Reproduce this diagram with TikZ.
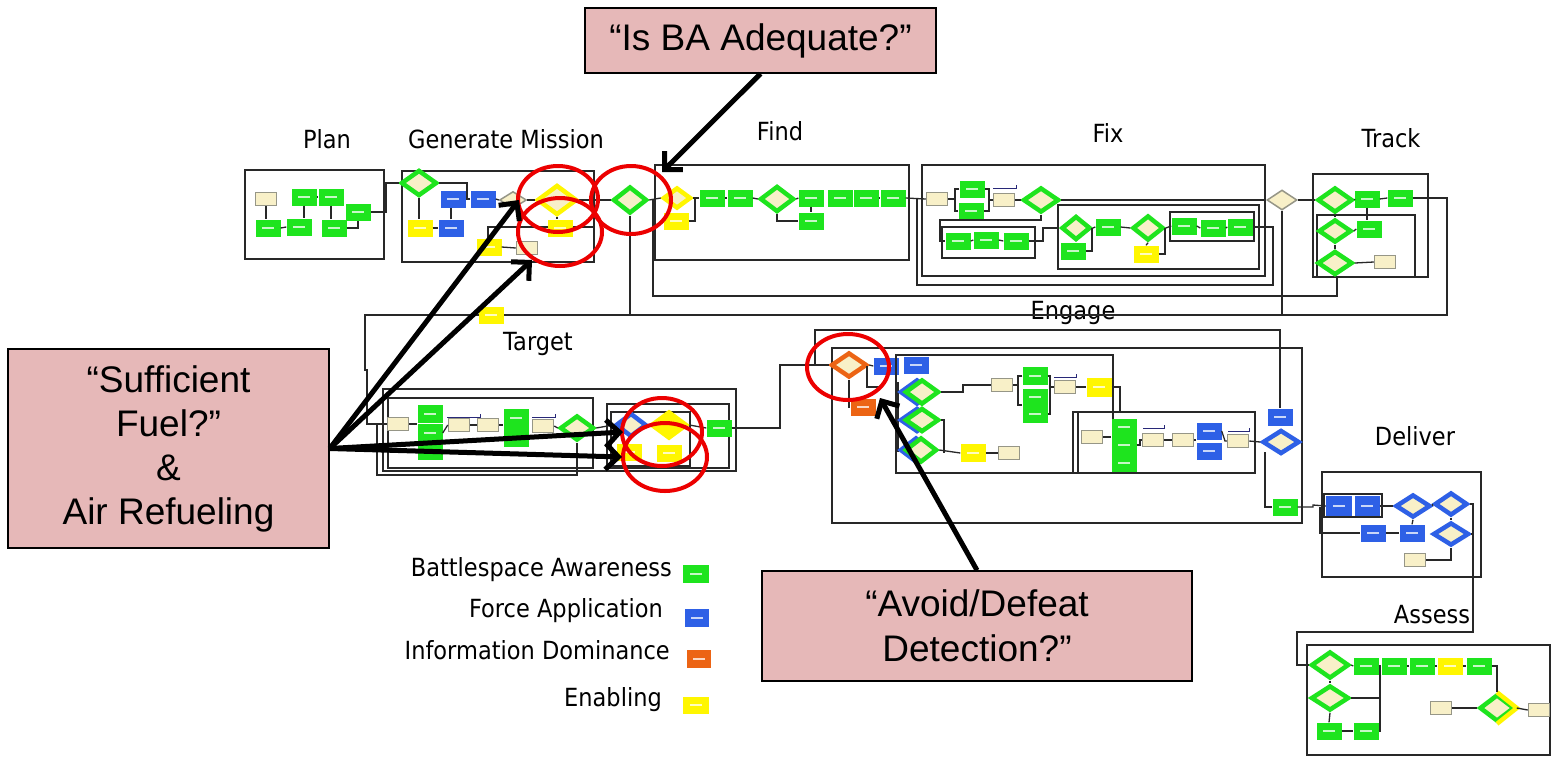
\documentclass[tikz,border=0pt]{standalone}
\usepackage{fontspec}
\usetikzlibrary{shapes.geometric,arrows.meta}
\newfontfamily\lblfont[FakeStretch=0.9]{DejaVu Sans}
\newfontfamily\callfont{Liberation Sans}
\definecolor{cgreen}{RGB}{30,228,30}
\definecolor{cblue}{RGB}{46,96,230}
\definecolor{corange}{RGB}{236,100,20}
\definecolor{cyellow}{RGB}{255,246,0}
\definecolor{cbeige}{RGB}{248,240,200}
\definecolor{cgray}{RGB}{150,150,135}
\definecolor{cpink}{RGB}{230,184,184}
\definecolor{cred}{RGB}{236,0,0}
\definecolor{cnavy}{RGB}{40,40,120}
\definecolor{cline}{RGB}{40,40,40}
\tikzset{
  tbox/.style={draw=none, minimum width=25pt, minimum height=17pt, inner sep=0pt,
    path picture={\fill[white, opacity=0.75] ([shift={(-6pt,-1pt)}]path picture bounding box.center) rectangle ([shift={(6pt,1pt)}]path picture bounding box.center);}},
  gb/.style={tbox, fill=cgreen},
  bb/.style={tbox, fill=cblue},
  ob/.style={tbox, fill=corange},
  yb/.style={tbox, fill=cyellow},
  doc/.style={draw=cgray, line width=1.5pt, fill=cbeige, minimum width=21pt, minimum height=13pt, inner sep=0pt},
  dia/.style={diamond, draw=#1, line width=4.5pt, fill=cbeige, inner sep=0pt, minimum width=36pt, minimum height=27pt},
  dia/.default=cgreen,
  frm/.style={draw=cline, line width=1.3pt},
  wire/.style={draw=cline, line width=1.3pt},
  navy/.style={draw=cnavy, line width=1pt},
  callout/.style={draw=black, line width=1.5pt, fill=cpink, align=center, inner sep=0pt},
  ring/.style={ellipse, draw=cred, line width=4pt, inner sep=0pt},
  bigarrow/.style={draw=black, line width=5pt, -{Straight Barb[length=13pt,width=26pt]}},
  lbl/.style={font=\lblfont\fontsize{25}{30}\selectfont, inner sep=0pt},
}
\begin{document}
\begin{tikzpicture}[x=1pt,y=-1pt]
\fill[white] (0,0) rectangle (1552,761);
\useasboundingbox (0,0) rectangle (1552,761);
\coordinate (yl) at (0,315);

% ---------- section labels ----------
\node[lbl, anchor=base] (lplan) at (327,148) {Plan};
\node[lbl, anchor=base] (lgm) at (506,148) {Generate Mission};
\node[lbl, anchor=base] (lfind) at (780,140) {Find};
\node[lbl, anchor=base] (lfix) at (1108,142) {Fix};
\node[lbl, anchor=base] (ltrack) at (1391,147) {Track};
\node[lbl, anchor=base] (lengage) at (1073,319) {Engage};
\node[lbl, anchor=base] (ltarget) at (538,350) {Target};
\node[lbl, anchor=base] (ldeliver) at (1415,445) {Deliver};
\node[lbl, anchor=base] (lassess) at (1432,623) {Assess};

% ---------- long routing lines ----------
\draw[wire] (653,200) -- (653,296) -- (1337,296) -- (1337,277);
\draw[wire] (917,199) -- (917,285) -- (1273,285) -- (1273,227) -- (1253,227);

% ---------- Plan ----------
\draw[frm] (245,170) rectangle (384,259);
\node[doc] (p0) at (266,199) {};
\node[gb] (p1) at (304,197) {};
\node[gb] (p2) at (331,197) {};
\node[gb] (p3) at (358,212) {};
\node[gb] (p4) at (268,228) {};
\node[gb] (p5) at (299,227) {};
\node[gb] (p6) at (334,228) {};
\draw[wire] (p0.south) -- (p0.south |- p4.north);
\draw[wire] (p1.south) -- (p1.south |- p5.north);
\draw[wire] (p2.south) -- (p2.south |- p6.north);
\draw[wire] (p4.east) -- (p5.west);
\draw[wire] (p1.east) -- (p2.west);
\draw[wire] (p6.east) -| (p3.south);

% ---------- Generate Mission ----------
\draw[frm] (402,171) rectangle (594,262);
\draw[wire] (488,240) -- (488,227) -- (594,227);
\node[dia=cgreen, minimum width=36, minimum height=26] (g0) at (419,183) {};
\node[bb] (g1) at (453,199) {};
\node[bb] (g2) at (483,199) {};
\node[yb] (g3) at (420,228) {};
\node[bb] (g4) at (451,228) {};
\node[dia=cgray, line width=1.5pt, minimum width=27, minimum height=17] (g5) at (513,200) {};
\node[dia=cyellow, minimum width=40, minimum height=30] (g6) at (557,200) {};
\node[yb] (g7) at (560,228) {};
\node[yb] (g8) at (489,247) {};
\node[doc] (g9) at (527,248) {};
\draw[wire] (p3.east) -- (386,212) |- (g0.west);
\draw[wire] (g0.east) -- (467,183) |- (g2.west);
\draw[wire] (g0.south) -- (g0.south |- g3.north);
\draw[wire] (g3.east) -- (g4.west);
\draw[wire] (g4.north) -- (g4.north |- g1.south);
\draw[wire] (g2.east) -- (g5.west);
\draw[wire] (g5.east) -- (g6.west);
\draw[wire] (g6.south) -- (g6.south |- g7.north);
\draw[wire] (g8.east) -- (g9.west);

% ---------- Find ----------
\node[dia=cgreen, minimum width=34, minimum height=27] (f0) at (630,200) {};
\draw[wire] (g6.east) -- (f0.west);
\draw[wire] (f0.south) -- (f0.south |- yl);
\draw[frm] (655,165) rectangle (909,260);
\node[yb] (f2) at (676,221) {};
\node[dia=cyellow, minimum width=28, minimum height=21] (f1) at (677,198) {};
\node[gb] (f3) at (712,198) {};
\node[gb] (f4) at (740,198) {};
\node[dia=cgreen, minimum width=34, minimum height=26] (f5) at (777,199) {};
\node[gb] (f6) at (811,198) {};
\node[gb] (f7) at (811,221) {};
\node[gb] (f8) at (840,198) {};
\node[gb] (f9) at (866,198) {};
\node[gb] (f10) at (893,198) {};
\draw[wire] (f0.east) -- (f1.west);
\draw[wire] (f1.east) -- (f3.west);
\draw[wire] (f2.east) -- (695,221) -- (695,198);
\draw[wire] (f3.east) -- (f4.west);
\draw[wire] (f4.east) -- (f5.west);
\draw[wire] (f5.east) -- (f6.west);
\draw[wire] (f5.south) |- (f7.west);
\draw[wire] (f6.south) -- (f7.north);
\draw[wire] (f9.east) -- (f10.west);

% ---------- Fix ----------
\draw[frm] (922,165) rectangle (1265,276);
\node[doc] (x1) at (937,199) {};
\node[gb] (x2) at (972,189) {};
\node[gb] (x3) at (971,211) {};
\node[doc] (x4) at (1004,200) {};
\node[dia=cgreen, minimum width=36, minimum height=25] (x5) at (1041,200) {};
\draw[frm] (942,227) rectangle (1035,258);
\node[gb] (x6) at (958,241) {};
\node[gb] (x7) at (986,240) {};
\node[gb] (x8) at (1016,241) {};
\draw[frm] (1058,205) rectangle (1259,269);
\node[dia=cgreen, minimum width=29, minimum height=24] (x9) at (1076,228) {};
\node[gb] (x10) at (1073,251) {};
\node[gb] (x11) at (1108,227) {};
\node[dia=cgreen, minimum width=31, minimum height=25] (x12) at (1148,228) {};
\node[yb] (x13) at (1146,254) {};
\draw[frm] (1170,212) rectangle (1254,241);
\node[gb] (x14) at (1184,226) {};
\node[gb] (x15) at (1213,228) {};
\node[gb] (x16) at (1240,227) {};
\node[dia=cgray, line width=1.5pt, minimum width=30, minimum height=20] (x17) at (1282,200) {};
\draw[wire] (f10.east) -- (x1.west);
\draw[wire] (x1.east) -- (955,199);
\draw[wire] (x2.west) -- (955,189) -- (955,211) -- (x3.west);
\draw[wire] (x2.east) -- (989,189) -- (989,211) -- (x3.east);
\draw[wire] (989,200) -- (x4.west);
\draw[navy] (993,188) -- (1016,188) -- (1016,185);
\draw[wire] (x4.east) -- (x5.west);
\draw[wire] (x5.east) -- (x17.west);
\draw[wire] (x5.south) -- (1041,220) -- (940,220) -- (940,241) -- (x6.west);
\draw[wire] (x6.east) -- (x7.west);
\draw[wire] (x7.east) -- (x8.west);
\draw[wire] (x8.east) -- (1043,241) |- (x9.west);
\draw[wire] (x9.east) -- (x11.west);
\draw[wire] (x10.east) -- (1092,251) -- (1092,228);
\draw[wire] (x11.east) -- (x12.west);
\draw[wire] (x12.south) -- (x13.north);
\draw[wire] (x13.east) -- (1165,254) -- (1165,228);
\draw[wire] (x12.east) -- (x14.west);
\draw[wire] (x14.east) -- (x15.west);
\draw[wire] (x15.east) -- (x16.west);
\draw[wire] (x17.south) -- (x17.south |- yl);

% ---------- Track ----------
\draw[frm] (1313,174) rectangle (1428,277);
\draw[frm] (1317,215) rectangle (1415,277);
\node[dia=cgreen, minimum width=35, minimum height=25] (t1) at (1335,200) {};
\node[gb] (t2) at (1367,199) {};
\node[gb] (t3) at (1400,198) {};
\node[dia=cgreen, minimum width=33, minimum height=23] (t4) at (1335,231) {};
\node[gb] (t6) at (1369,229) {};
\node[dia=cgreen, minimum width=35, minimum height=24] (t5) at (1335,263) {};
\node[doc] (t7) at (1385,262) {};
\draw[wire] (x17.east) -- (t1.west);
\draw[wire] (t1.east) -- (t2.west);
\draw[wire] (t2.east) -- (t3.west);
\draw[wire] (t1.south) -- (t4.north);
\draw[wire] (t4.south) -- (t5.north);
\draw[wire] (t4.east) -- (t6.west);
\draw[wire] (t2.south) -- (t2.south |- t6.north);
\draw[wire] (t5.east) -- (t7.west);

% ---------- Target ----------
\draw[frm] (383,389) rectangle (736,471);
\draw[frm] (388,398) rectangle (593,468);
\draw[frm] (607,404) rectangle (729,468);
\draw[frm] (611,412) rectangle (690,466);
\node[doc] (a1) at (398,424) {};
\node[gb, minimum height=18] (a2) at (430,414) {};
\node[gb, minimum height=19] (a3) at (430,433) {};
\node[gb, minimum height=16] (a4) at (430,452) {};
\node[doc] (a5) at (459,425) {};
\node[doc] (a6) at (488,425) {};
\node[gb, minimum height=19] (a7) at (516,418) {};
\node[gb, minimum height=19] (a8) at (516,437) {};
\node[doc] (a9) at (543,426) {};
\node[dia=cgreen, minimum width=34, minimum height=25] (a10) at (577,428) {};
\node[yb] (a13) at (629,452) {};
\node[yb] (a14) at (669,453) {};
\node[dia=cblue, minimum width=31, minimum height=24] (a11) at (631,425) {};
\node[dia=cyellow, fill=cyellow, minimum width=36, minimum height=27] (a12) at (669,425) {};
\node[gb] (a15) at (719,428) {};
\draw[wire] (t3.east) -- (1447,198) -- (1447,315) -- (365,315) -- (365,370) -- (367,370) -- (367,424) -- (a1.west);
\node[yb] (ybar) at (491,315) {};
\draw[wire] (a1.east) -- (a1.east -| a3.west);
\draw[wire] (a3.east) -- (a5.west);
\draw[wire] (a5.east) -- (a6.west);
\draw[navy] (447,417) -- (480,417) -- (480,414);
\draw[wire] (a6.east) -- (a6.east -| a7.west);
\draw[wire] (a8.east) -- (a9.west |- a8.east);
\draw[wire] (a9.east) -- (a10.west);
\draw[navy] (532,417) -- (555,417) -- (555,414);
\draw[wire] (a10.east) -- (a11.west);
\draw[wire] (a12.east) -- (a15.west);
\draw[wire] (a10.south) |- (377,475) -- (377,424);

% ---------- Engage ----------
\draw[frm] (832,348) rectangle (1302,523);
\node[dia=corange, minimum width=36, minimum height=25] (e1) at (849,365) {};
\node[bb] (e2) at (886,366) {};
\node[bb] (e3) at (916,365) {};
\node[ob] (e4) at (863,407) {};
\draw[wire] (a15.east) -- (780,428) |- (e1.west);
\draw[wire] (815,365) -- (815,330) -- (1280,330) -- (1280,408);
\draw[wire] (e1.east) -- (e2.west);
\draw[wire] (e1.south) |- (e4.west);
\draw[wire] (867,366) -- (867,387) -- (880,387);
\draw[frm] (896,355) rectangle (1113,473);
\draw[wire] (898,382) -- (898,452);
\node[dia=cblue, minimum width=34, minimum height=25] (e5b) at (917,392) {};
\node[dia=cgreen, minimum width=34, minimum height=25] (e5) at (922,392) {};
\node[dia=cblue, minimum width=34, minimum height=24] (e6b) at (917,420) {};
\node[dia=cgreen, minimum width=34, minimum height=24] (e6) at (922,420) {};
\node[dia=cblue, minimum width=32, minimum height=25] (e7b) at (916,450) {};
\node[dia=cgreen, minimum width=32, minimum height=25] (e7) at (921,450) {};
\node[doc] (e8) at (1002,385) {};
\node[gb, minimum height=18] (e9) at (1035,376) {};
\node[gb, minimum height=17] (e10) at (1035,397) {};
\node[gb, minimum height=17] (e11) at (1035,414) {};
\node[doc] (e12) at (1065,387) {};
\node[yb, minimum height=19] (e13) at (1099,387) {};
\node[yb, minimum height=18] (e14) at (973,453) {};
\node[doc] (e15) at (1009,453) {};
\draw[wire] (e5.east) -- (963,392) -- (963,385) -- (e8.west);
\draw[wire] (e8.east) -- (1018,385);
\draw[wire] (e9.west) -- (1018,376) -- (1018,405) -- (e10.west |- 0,405);
\draw[wire] (e9.east) -- (1050,376) -- (1050,414) -- (e11.east);
\draw[wire] (1050,387) -- (e12.west);
\draw[navy] (1054,377) -- (1076,377) -- (1076,374);
\draw[wire] (e12.east) -- (e13.west);
\draw[wire] (e13.east) -- (1120,387) -- (1120,412);
\draw[wire] (e6.east) -- (944,420) -- (944,453);
\draw[wire] (e7.east) -- (e14.west);
\draw[wire] (e14.east) -- (e15.west);
\draw[frm] (1073,412) rectangle (1255,473);
\draw[wire] (1078,412) -- (1078,473);
\node[doc] (e16) at (1092,437) {};
\node[gb] (e17) at (1124,427) {};
\node[gb, minimum height=18] (e18) at (1124,445) {};
\node[gb, minimum height=18] (e19) at (1124,463) {};
\node[doc] (e21) at (1153,440) {};
\node[doc] (e22) at (1183,440) {};
\node[bb] (e23) at (1209,431) {};
\node[bb] (e24) at (1209,451) {};
\node[doc] (e25) at (1238,441) {};
\draw[wire] (e16.east) -- (e16.east -| e18.west);
\draw[wire] (e18.east) -- (1140,445) -- (1140,440) -- (e21.west);
\draw[navy] (1143,428) -- (1164,428) -- (1164,425);
\draw[wire] (e21.east) -- (e22.west);
\draw[wire] (e22.east) -- (e22.east -| e23.west);
\draw[wire] (e23.east) -- (1225,441) -- (e25.west);
\draw[navy] (1228,431) -- (1249,431) -- (1249,428);
\node[bb] (e20) at (1280,417) {};
\node[dia=cblue, minimum width=37, minimum height=24] (e26) at (1281,442) {};
\node[gb] (e27) at (1285,507) {};
\draw[wire] (e25.east) -- (e26.west);
\draw[wire] (1265,452) -- (1265,507) -- (e27.west);

% ---------- Deliver ----------
\draw[frm] (1322,472) rectangle (1481,577);
\draw[frm] (1324,494) rectangle (1382,517);
\node[bb, minimum width=26, minimum height=20] (d1) at (1339,506) {};
\node[bb, minimum width=25, minimum height=20] (d2) at (1367,506) {};
\node[dia=cblue, minimum width=35, minimum height=23] (d3) at (1413,506) {};
\node[dia=cblue, minimum width=33, minimum height=23] (d4) at (1451,504) {};
\node[bb] (d5) at (1373,533) {};
\node[bb] (d6) at (1412,533) {};
\node[dia=cblue, minimum width=36, minimum height=23] (d7) at (1451,534) {};
\node[doc] (d8) at (1415,560) {};
\draw[wire] (e27.east) -- (1313,507) -- (1313,505) -- (d1.west);
\draw[wire] (1320,507) -- (1320,533) -- (d5.west);
\draw[wire] (d2.east) -- (d3.west);
\draw[wire] (d3.east) -- (d4.west);
\draw[wire] (d4.south) -- (d7.north);
\draw[wire] (d5.east) -- (d6.west);
\draw[wire] (d6.north) -- (d3.south);
\draw[wire] (d8.east) -| (d7.south);

% ---------- Assess ----------
\draw[frm] (1307,645) rectangle (1550,755);
\node[dia=cgreen, minimum width=38, minimum height=27] (s1) at (1330,665) {};
\node[gb] (s2) at (1366,666) {};
\node[gb] (s3) at (1394,666) {};
\node[gb] (s4) at (1422,666) {};
\node[yb] (s5) at (1450,666) {};
\node[gb] (s6) at (1479,666) {};
\node[dia=cgreen, minimum width=38, minimum height=25] (s7) at (1330,698) {};
\node[gb] (s8) at (1329,731) {};
\node[gb] (s9) at (1366,731) {};
\node[doc] (s10) at (1441,708) {};
\node[dia=cgreen, minimum width=35, minimum height=27] (s11) at (1497,708) {};
\draw[cyellow, line width=4.5pt] (s11.north) -- (s11.east) -- (s11.south);
\node[doc] (s12) at (1539,710) {};
\draw[wire] (d4.east) -- (1473,504) -- (1473,632) -- (1297,632) |- (s1.west);
\draw[wire] (d7.east) -- (1473,534);
\draw[wire] (s1.east) -- (s2.west);
\draw[wire] (s2.east) -- (s3.west);
\draw[wire] (s3.east) -- (s4.west);
\draw[wire] (s4.east) -- (s5.west);
\draw[wire] (s5.east) -- (s6.west);
\draw[wire] (s6.east) -| (s11.north);
\draw[wire] (s10.east) -- (s11.west);
\draw[wire] (s11.east) -- (s12.west);
\draw[wire] (s1.south) -- (s7.north);
\draw[wire] (s7.south) -- (s8.north);
\draw[wire] (s8.east) -- (s9.west);
\draw[wire] (s9.east) -- (1380,731) -- (1380,666);
\draw[wire] (s7.east) -- (1380,698);

% ---------- Legend ----------
\node[lbl, anchor=base east] (lg1) at (672,576) {Battlespace Awareness};
\node[lbl, anchor=base east] (lg2) at (663,617) {Force Application};
\node[lbl, anchor=base east] (lg3) at (670,659) {Information Dominance};
\node[lbl, anchor=base east] (lg4) at (662,706) {Enabling};
\node[gb, minimum width=26, minimum height=18] (lk1) at (696,574) {};
\node[bb, minimum width=24, minimum height=18] (lk2) at (697,618) {};
\node[ob, minimum width=24, minimum height=18] (lk3) at (699,659) {};
\node[yb, minimum width=26, minimum height=17] (lk4) at (696,705) {};

% ---------- red rings ----------
\node[ring, minimum width=80, minimum height=66] (r1) at (558,199) {};
\node[ring, minimum width=84, minimum height=68] (r2) at (560,232) {};
\node[ring, minimum width=80, minimum height=68] (r3) at (631,200) {};
\node[ring, minimum width=80, minimum height=68] (r4) at (662,432) {};
\node[ring, minimum width=84, minimum height=68] (r5) at (665,457) {};
\node[ring, minimum width=82, minimum height=66] (r6) at (848,367) {};

% ---------- callouts ----------
\node[callout, minimum width=351, minimum height=65, font=\callfont\fontsize{37}{44}\selectfont] (ba) at (760.5,40.5) {“Is BA Adequate?”};
\node[callout, minimum width=321, minimum height=199, font=\callfont\fontsize{37}{44}\selectfont] (fuel) at (168.5,448.5) {“Sufficient\\Fuel?”\\\&\\Air Refueling};
\node[callout, minimum width=430, minimum height=110, font=\callfont\fontsize{37}{45}\selectfont] (avoid) at (977,626) {“Avoid/Defeat\\Detection?”};

\coordinate (ta1) at (519,200);
\coordinate (ta2) at (532,260);
\coordinate (ta3) at (623,432);
\coordinate (ta4) at (622,457);
\coordinate (tb) at (662,172);
\coordinate (tc) at (880,398);
\draw[bigarrow] (fuel.east) -- (ta1);
\draw[bigarrow] (fuel.east) -- (ta2);
\draw[bigarrow] (fuel.east) -- (ta3);
\draw[bigarrow] (fuel.east) -- (ta4);
\draw[bigarrow] (ba.south) -- (tb);
\draw[bigarrow] (avoid.north) -- (tc);
\end{tikzpicture}
\end{document}
